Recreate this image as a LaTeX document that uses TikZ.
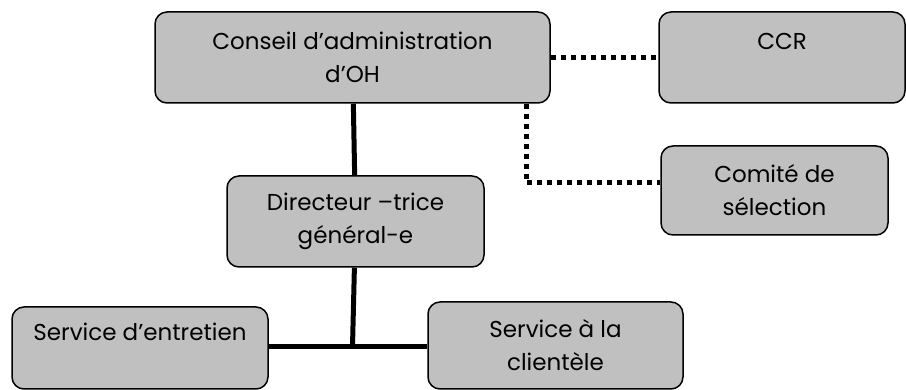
\documentclass[tikz,border=0pt]{standalone}
\usepackage{fontspec}
\setmainfont{Poppins}
\usepackage{tikz}
\usetikzlibrary{positioning}

\begin{document}
\begin{tikzpicture}[
x=1pt,y=-1pt,
font=\fontsize{23}{33}\selectfont,
box/.style={draw,line width=1.5pt,rounded corners=12pt,align=center,fill=boxgray,inner sep=0pt},
link/.style={line width=5pt},
dlink/.style={line width=5pt,dash pattern=on 5pt off 5pt}]
\definecolor{boxgray}{HTML}{C0C0C0}
\useasboundingbox (0,0) rectangle (906,390);
\node[box,minimum width=395pt,minimum height=91pt] (ca) at (352.5,57.5) {Conseil d’administration\\d’OH};
\node[box,minimum width=246pt,minimum height=91pt] (ccr) at (782,57.5) {CCR\\~};
\node[box,minimum width=227pt,minimum height=89pt] (cs) at (774.5,190.5) {Comité de\\sélection};
\node[box,minimum width=257pt,minimum height=91pt] (dg) at (355.5,221.5) {Directeur –trice\\général-e};
\node[box,minimum width=256pt,minimum height=82pt] (se) at (140,348) {Service d’entretien\\~};
\node[box,minimum width=255pt,minimum height=87pt] (sc) at (555.5,345.5) {Service à la\\clientèle};
\coordinate (jn) at (352.5,347);
\coordinate (kn) at (526,183);
\draw[link] (ca) -- (dg);
\draw[link] (dg) -- (jn);
\draw[link] (se.east |- jn) -- (sc.west |- jn);
\draw[dlink] (ca.east) -- (ccr.west);
\draw[dlink] (ca.south -| kn) -- (kn) -- (kn -| cs.west);
\end{tikzpicture}
\end{document}
